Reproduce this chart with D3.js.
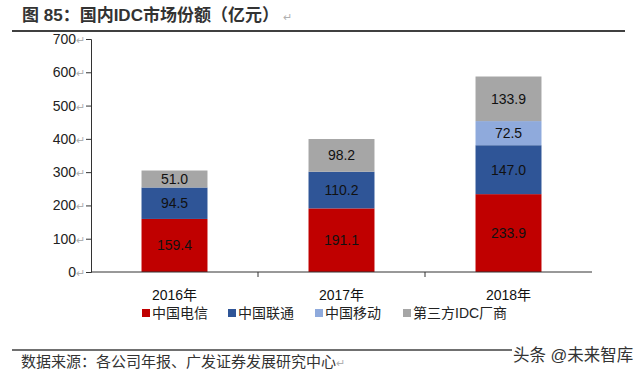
<!DOCTYPE html>
<html>
<head>
<meta charset="utf-8">
<title>国内IDC市场份额</title>
<script src="https://d3js.org/d3.v7.min.js"></script>
<style>
  body { margin: 0; background: #fff; }
  text { font-family: Arial, "Liberation Sans", "Noto Sans CJK SC", sans-serif; }
  .cjk { font-family: "Liberation Sans", "Noto Sans CJK SC", sans-serif; }
  .ret { fill: #b0b0b0; font-size: 11px; }
</style>
</head>
<body>
<div id="chart"></div>
<script>
// data
var years = ["2016年", "2017年", "2018年"];
var series = ["中国电信", "中国联通", "中国移动", "第三方IDC厂商"];
var telecom = [159.4, 191.1, 233.9];
var unicom = [94.5, 110.2, 147.0];
var mobile = [0, 0, 72.5];
var thirdParty = [51.0, 98.2, 133.9];
var yTicks = [0, 100, 200, 300, 400, 500, 600, 700];
var colors = ["#c00000", "#2f5597", "#8faadc", "#a6a6a6"];

var W = 640, H = 376;
var svg = d3.select("#chart").append("svg")
  .attr("width", W).attr("height", H);

// title
svg.append("text").attr("class", "cjk")
  .attr("x", 22).attr("y", 21)
  .attr("font-size", 17).attr("font-weight", "bold").attr("fill", "#333")
  .text("图 85：国内IDC市场份额（亿元）")
  .append("tspan").attr("class", "ret").attr("font-weight", "normal").attr("dx", 4).text("↵");
svg.append("line").attr("x1", 12).attr("x2", 625).attr("y1", 31).attr("y2", 31)
  .attr("stroke", "#404040").attr("stroke-width", 2);

// scales
var x = d3.scaleBand().domain(years).range([91, 592])
  .paddingInner(0.605).paddingOuter(0.3025);
var y = d3.scaleLinear().domain([0, 700]).range([272, 39]);

// stacked data
var rows = years.map(function(yr, i) {
  return {year: yr, "中国电信": telecom[i], "中国联通": unicom[i], "中国移动": mobile[i], "第三方IDC厂商": thirdParty[i]};
});
var stacked = d3.stack().keys(series)(rows);

var layers = svg.selectAll("g.layer").data(stacked).enter().append("g")
  .attr("fill", function(d, i) { return colors[i]; });

layers.selectAll("rect").data(function(d) { return d; }).enter().append("rect")
  .attr("x", function(d) { return x(d.data.year); })
  .attr("width", x.bandwidth())
  .attr("y", function(d) { return y(d[1]); })
  .attr("height", function(d) { return y(d[0]) - y(d[1]); });

// value labels
stacked.forEach(function(layer) {
  layer.forEach(function(d) {
    var v = d[1] - d[0];
    if (v <= 0) return;
    svg.append("text")
      .attr("x", x(d.data.year) + x.bandwidth() / 2)
      .attr("y", (y(d[0]) + y(d[1])) / 2)
      .attr("dy", "0.35em")
      .attr("text-anchor", "middle")
      .attr("font-size", 14).attr("fill", "#111")
      .text(v.toFixed(1));
  });
});

// y axis
var yAxis = svg.append("g").attr("transform", "translate(91,0)")
  .call(d3.axisLeft(y).tickValues(yTicks).tickSize(5).tickPadding(1).tickFormat(function(d) { return d; }));
yAxis.select(".domain").attr("stroke", "#333");
yAxis.selectAll(".tick line").attr("stroke", "#333");
yAxis.selectAll(".tick text").attr("font-size", 14).attr("fill", "#222")
  .attr("font-family", "Arial, 'Liberation Sans', sans-serif")
  .append("tspan").attr("class", "ret").text("↵");

// x axis line with ticks at category boundaries
svg.append("line").attr("x1", 91).attr("x2", 592).attr("y1", 272).attr("y2", 272)
  .attr("stroke", "#333");
years.slice(0, -1).forEach(function(yr) {
  var bx = x(yr) + x.bandwidth() + (x.step() - x.bandwidth()) / 2;
  svg.append("line").attr("x1", bx).attr("x2", bx).attr("y1", 272).attr("y2", 277)
    .attr("stroke", "#333");
});
svg.selectAll("text.cat").data(years).enter().append("text")
  .attr("class", "cat cjk")
  .attr("x", function(d) { return x(d) + x.bandwidth() / 2; })
  .attr("y", 300)
  .attr("text-anchor", "middle").attr("font-size", 14).attr("fill", "#111")
  .text(function(d) { return d; });

// legend
var legendX = [142, 228, 315, 403];
var lg = svg.selectAll("g.legend").data(series).enter().append("g")
  .attr("transform", function(d, i) { return "translate(" + legendX[i] + ",313)"; });
lg.append("rect").attr("x", 0).attr("y", -4).attr("width", 8).attr("height", 8)
  .attr("fill", function(d, i) { return colors[i]; });
lg.append("text").attr("class", "cjk").attr("x", 10).attr("dy", "0.36em")
  .attr("font-size", 14).attr("fill", "#222")
  .text(function(d) { return d; });

// footer
svg.append("line").attr("x1", 12).attr("x2", 512).attr("y1", 350).attr("y2", 350)
  .attr("stroke", "#404040").attr("stroke-width", 1.5);
svg.append("text").attr("class", "cjk")
  .attr("x", 21).attr("y", 367)
  .attr("font-size", 15).attr("fill", "#333")
  .text("数据来源：各公司年报、广发证券发展研究中心")
  .append("tspan").attr("class", "ret").text("↵");
svg.append("text").attr("class", "cjk")
  .attr("x", 513).attr("y", 361)
  .attr("font-size", 16.5).attr("fill", "#333")
  .text("头条 @未来智库");
</script>
</body>
</html>
